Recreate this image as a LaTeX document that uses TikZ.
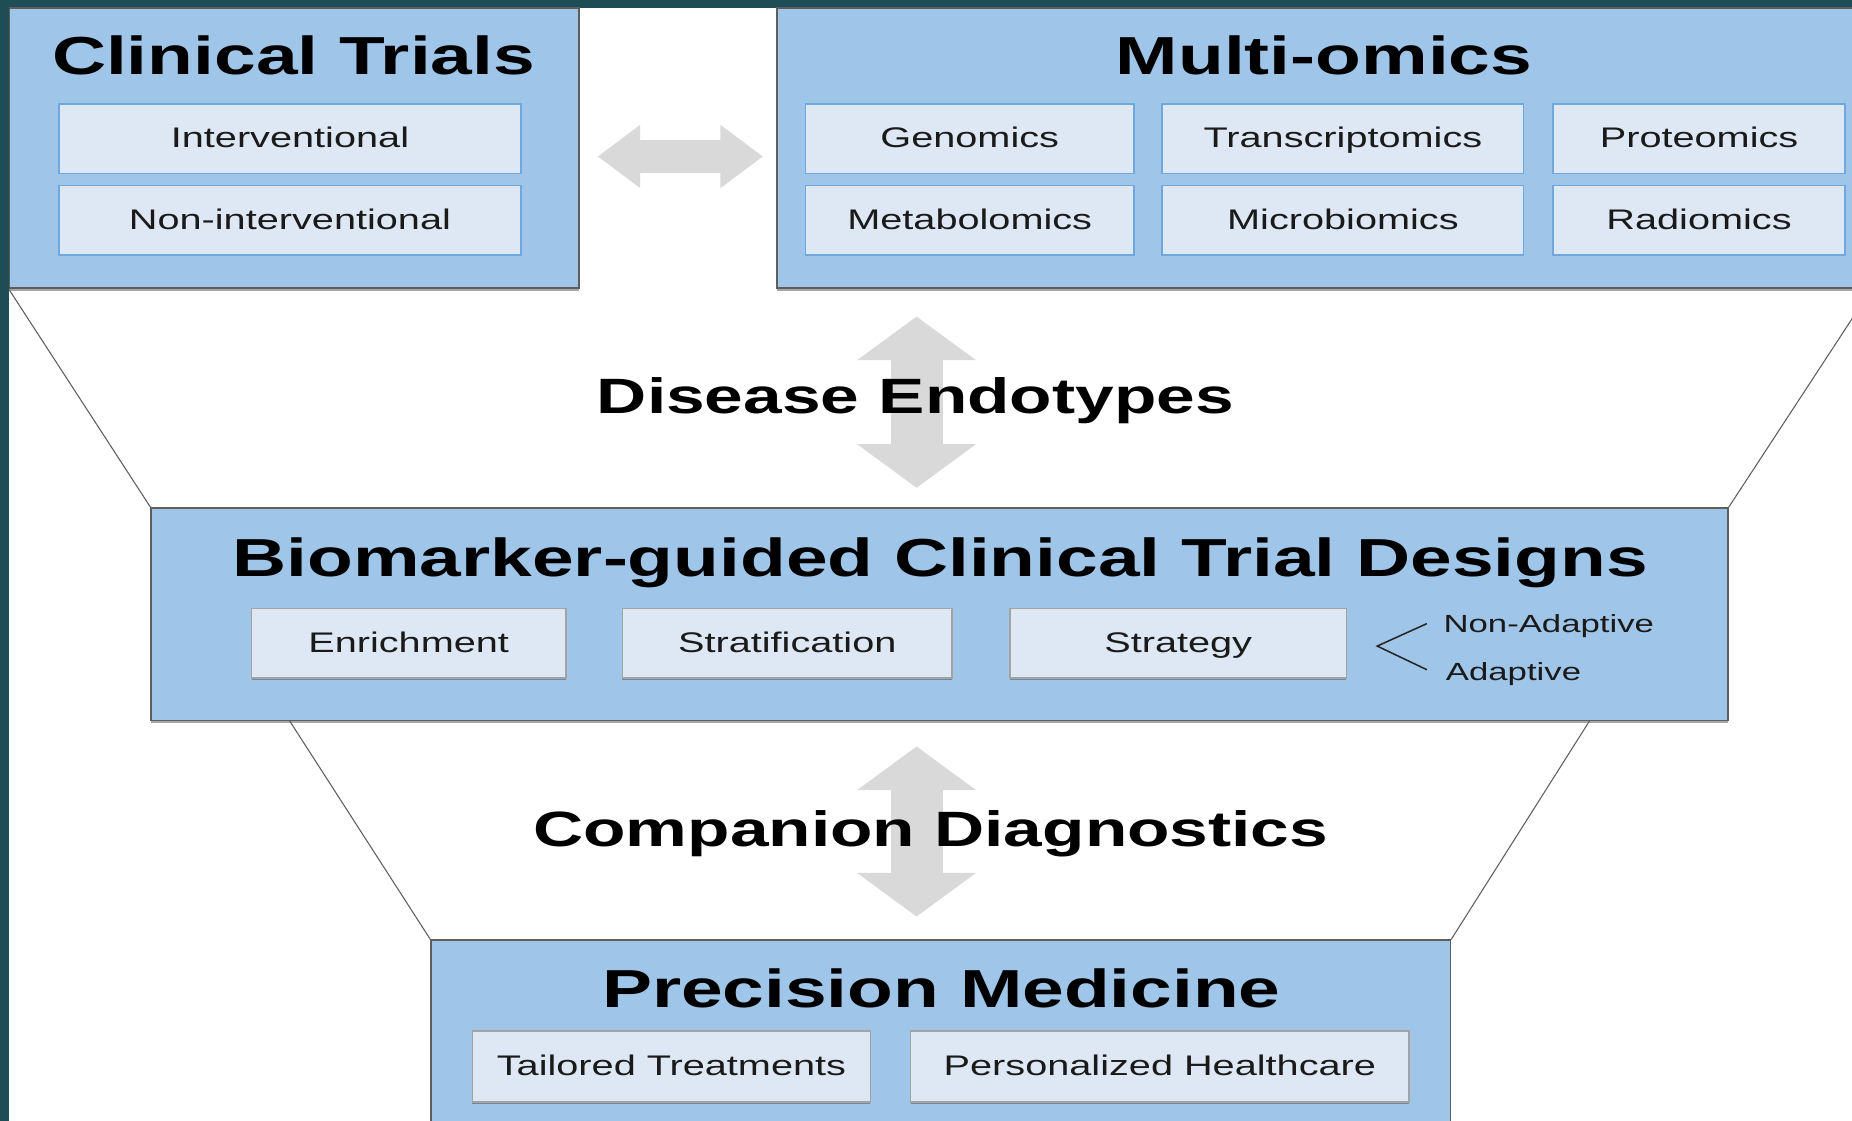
\documentclass[tikz,border=0pt]{standalone}
\usepackage{fontspec}
\setmainfont{Liberation Sans}
\newfontfamily\wf[FakeStretch=1.4]{Liberation Sans}
\usetikzlibrary{arrows.meta,shadows,calc}
\definecolor{frameteal}{HTML}{1E4D56}
\definecolor{boxblue}{HTML}{9FC5E8}
\definecolor{innerfill}{HTML}{DEE8F4}
\definecolor{innerblue}{HTML}{6FA8DC}
\definecolor{innergray}{HTML}{A3A3A3}
\definecolor{outerline}{HTML}{5E5E5E}
\definecolor{arrowgray}{HTML}{D9D9D9}
\definecolor{textdark}{HTML}{1A1A1A}
\tikzset{
  outerbox/.style={draw=outerline, line width=1.3pt, fill=boxblue, inner sep=0pt,
    drop shadow={shadow xshift=0pt, shadow yshift=-2pt, fill=black, opacity=0.35}},
  innerA/.style={draw=innerblue, line width=1.3pt, fill=innerfill, inner sep=0pt},
  innerB/.style={draw=innergray, line width=1.3pt, fill=innerfill, inner sep=0pt,
    drop shadow={shadow xshift=0pt, shadow yshift=-1.5pt, fill=black, opacity=0.3}},
  innertext/.style={font=\wf\fontsize{24}{28}\selectfont, text=textdark, inner sep=0pt,
    text height=17.2pt, text depth=0pt},
  titletext/.style={font=\wf\bfseries\fontsize{45.3}{52}\selectfont, text=black, inner sep=0pt,
    text height=32.4pt, text depth=0pt},
  midtext/.style={font=\wf\bfseries\fontsize{42}{48}\selectfont, text=black, inner sep=0pt,
    text height=30.1pt, text depth=0pt},
  smalltext/.style={font=\wf\fontsize{21}{24}\selectfont, text=textdark, inner sep=0pt,
    text height=15pt, text depth=0pt},
  funnel/.style={draw=outerline, line width=0.9pt},
  harrow/.style={draw=arrowgray, line width=28pt,
    {Triangle[width=51pt,length=36pt]}-{Triangle[width=51pt,length=36pt]}},
  varrow/.style={draw=arrowgray, line width=44pt,
    {Triangle[width=99pt,length=37pt]}-{Triangle[width=99pt,length=37pt]}},
}
\begin{document}
\begin{tikzpicture}[x=1pt,y=-1pt]
\useasboundingbox (0,0) rectangle (1568,949);
\clip (0,0) rectangle (1568,949);
\fill[white] (0,0) rectangle (1568,949);
\fill[frameteal] (0,0) rectangle (1568,7);
\fill[frameteal] (0,0) rectangle (8,949);

% coordinates for funnel tops and arrows
\coordinate (rtop) at (1583,247);
\coordinate (f3) at (245,610);
\coordinate (f4) at (1346,610);
\coordinate (ha1) at (506,132.5);
\coordinate (ha2) at (646,132.5);
\coordinate (va1) at (776,268);
\coordinate (va2) at (776,413);
\coordinate (vb1) at (776,632);
\coordinate (vb2) at (776,776);

% boxes
\node[outerbox, minimum width=482pt, minimum height=237pt] (ct) at (249,125.5) {};
\node[outerbox, minimum width=932pt, minimum height=237pt] (mo) at (1124,125.5) {};
\node[outerbox, minimum width=1335pt, minimum height=180pt] (bm) at (795.5,520) {};
\node[outerbox, minimum width=863pt, minimum height=170pt] (pm) at (796.5,881) {};

% funnel lines
\draw[funnel] (ct.south west) -- (bm.north west);
\draw[funnel] (rtop) -- (bm.north east);
\draw[funnel] (f3) -- (pm.north west);
\draw[funnel] (f4) -- (pm.north east);

% Clinical Trials
\node[titletext] (ctt) at (248.5,47) {Clinical Trials};
\node[innerA, minimum width=391pt, minimum height=59pt] (iv) at (245.5,117.5) {};
\node[innerA, minimum width=391pt, minimum height=59pt] (niv) at (245.5,186.5) {};
\node[innertext] (ivt) at ($(iv)+(0,-1)$) {Interventional};
\node[innertext] (nivt) at ($(niv)+(0,-1)$) {Non-interventional};

% Multi-omics
\node[titletext] (mot) at (1121,47) {Multi-omics};
\node[innerA, minimum width=278pt, minimum height=59pt] (gen) at (821,117.5) {};
\node[innerA, minimum width=306pt, minimum height=59pt] (tra) at (1137,117.5) {};
\node[innerA, minimum width=247pt, minimum height=59pt] (pro) at (1438.5,117.5) {};
\node[innerA, minimum width=278pt, minimum height=59pt] (met) at (821,186.5) {};
\node[innerA, minimum width=306pt, minimum height=59pt] (mic) at (1137,186.5) {};
\node[innerA, minimum width=247pt, minimum height=59pt] (rad) at (1438.5,186.5) {};
\node[innertext] (gent) at ($(gen)+(0,-1)$) {Genomics};
\node[innertext] (trat) at ($(tra)+(0,-1)$) {Transcriptomics};
\node[innertext] (prot) at ($(pro)+(0,-1)$) {Proteomics};
\node[innertext] (mett) at ($(met)+(0,-1)$) {Metabolomics};
\node[innertext] (mict) at ($(mic)+(0,-1)$) {Microbiomics};
\node[innertext] (radt) at ($(rad)+(0,-1)$) {Radiomics};

% arrows
\draw[harrow] (ha1) -- (ha2);
\draw[varrow] (va1) -- (va2);
\draw[varrow] (vb1) -- (vb2);

\node[midtext] (de) at (775,335) {Disease Endotypes};
\node[midtext] (cd) at (788,701.5) {Companion Diagnostics};

% Biomarker-guided designs
\node[titletext] (bmt) at (796,472) {Biomarker-guided Clinical Trial Designs};
\node[innerB, minimum width=266pt, minimum height=59pt] (enr) at (346,544.5) {};
\node[innerB, minimum width=279pt, minimum height=59pt] (str) at (666.5,544.5) {};
\node[innerB, minimum width=285pt, minimum height=59pt] (stg) at (997.5,544.5) {};
\node[innertext] (enrt) at ($(enr)+(0,-1)$) {Enrichment};
\node[innertext] (strt) at ($(str)+(0,-1)$) {Stratification};
\node[innertext] (stgt) at ($(stg)+(0,-1)$) {Strategy};
\coordinate (bk1) at (1208,528);
\coordinate (bk2) at (1166,547);
\coordinate (bk3) at (1208,567);
\draw[draw=black!85, line width=1.3pt] (bk1) -- (bk2) -- (bk3);
\node[smalltext, anchor=west] (nad) at (1222,527.8) {Non-Adaptive};
\node[smalltext, anchor=west] (ad) at (1224,568.7) {Adaptive};

% Precision Medicine
\node[titletext] (pmt) at (797,836.6) {Precision Medicine};
\node[innerB, minimum width=337pt, minimum height=60pt] (tt) at (568.5,903) {};
\node[innerB, minimum width=422pt, minimum height=60pt] (ph) at (982,903) {};
\node[innertext] (ttt) at ($(tt)+(0,-1)$) {Tailored Treatments};
\node[innertext] (pht) at ($(ph)+(0,-1)$) {Personalized Healthcare};
\end{tikzpicture}
\end{document}
